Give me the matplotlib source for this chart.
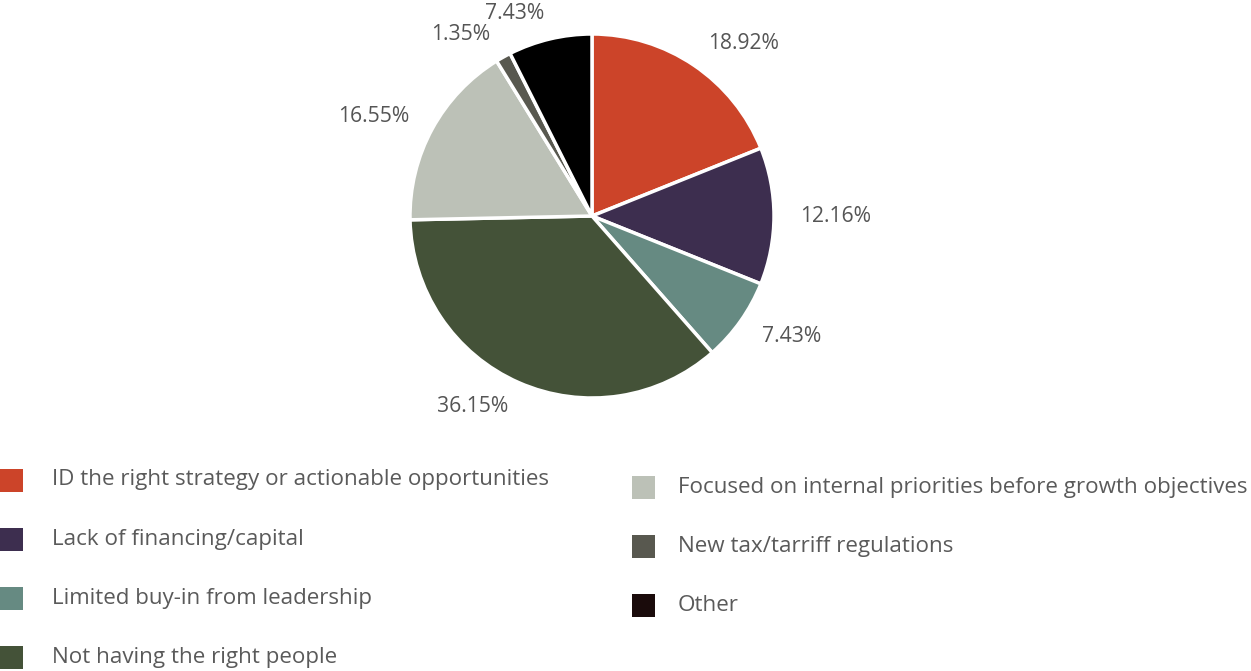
import numpy as np
import matplotlib
matplotlib.use("Agg")
import matplotlib.pyplot as plt
from matplotlib.patches import Rectangle

plt.rcParams["font.family"] = ["Open Sans", "DejaVu Sans"]

categories = [
    "ID the right strategy or actionable opportunities",
    "Lack of financing/capital",
    "Limited buy-in from leadership",
    "Not having the right people",
    "Focused on internal priorities before growth objectives",
    "New tax/tarriff regulations",
    "Other",
]
shares = [18.92, 12.16, 7.43, 36.15, 16.55, 1.35, 7.43]
colors = ["#CC4429", "#3D2E4F", "#668A82", "#445238", "#BCC1B7", "#58584F", "#000000"]
legend_colors = ["#CC4429", "#3D2E4F", "#668A82", "#445238", "#BCC1B7", "#58584F", "#1A0B0B"]

W, H = 1251, 671
fig = plt.figure(figsize=(W / 100, H / 100), dpi=100)
ax = fig.add_axes([0, 0, 1, 1])

cx, cy, r = 592, H - 216, 182
wedges, _ = ax.pie(
    shares, colors=colors, startangle=90, counterclock=False,
    center=(cx, cy), radius=r, frame=True,
    wedgeprops=dict(edgecolor="white", linewidth=2.5),
)
ax.set_xlim(0, W)
ax.set_ylim(0, H)
ax.axis("off")

text_color = "#555555"
label_dist = r + 26
for w, v in zip(wedges, shares):
    mid = np.deg2rad((w.theta1 + w.theta2) / 2)
    x = cx + label_dist * np.cos(mid)
    y = cy + label_dist * np.sin(mid)
    ha = "left" if np.cos(mid) >= 0 else "right"
    ax.text(x, y, f"{v:.2f}%", ha=ha, va="center", fontsize=15.2,
            color=text_color)

# legend in two columns
col_x = [0, 632]
text_off = [52, 46]
row_y0 = [480, 487]
row_step = 59.3
sq = 23
for i, (lab, c) in enumerate(zip(categories, legend_colors)):
    col = 0 if i < 4 else 1
    row = i if i < 4 else i - 4
    yc = H - (row_y0[col] + row * row_step)
    ax.add_patch(Rectangle((col_x[col], yc - sq / 2), sq, sq, color=c, lw=0))
    ax.text(col_x[col] + text_off[col], yc, lab, ha="left", va="center",
            fontsize=16.1, color="#5a5a5a")

fig.savefig("out.png", dpi=100)
